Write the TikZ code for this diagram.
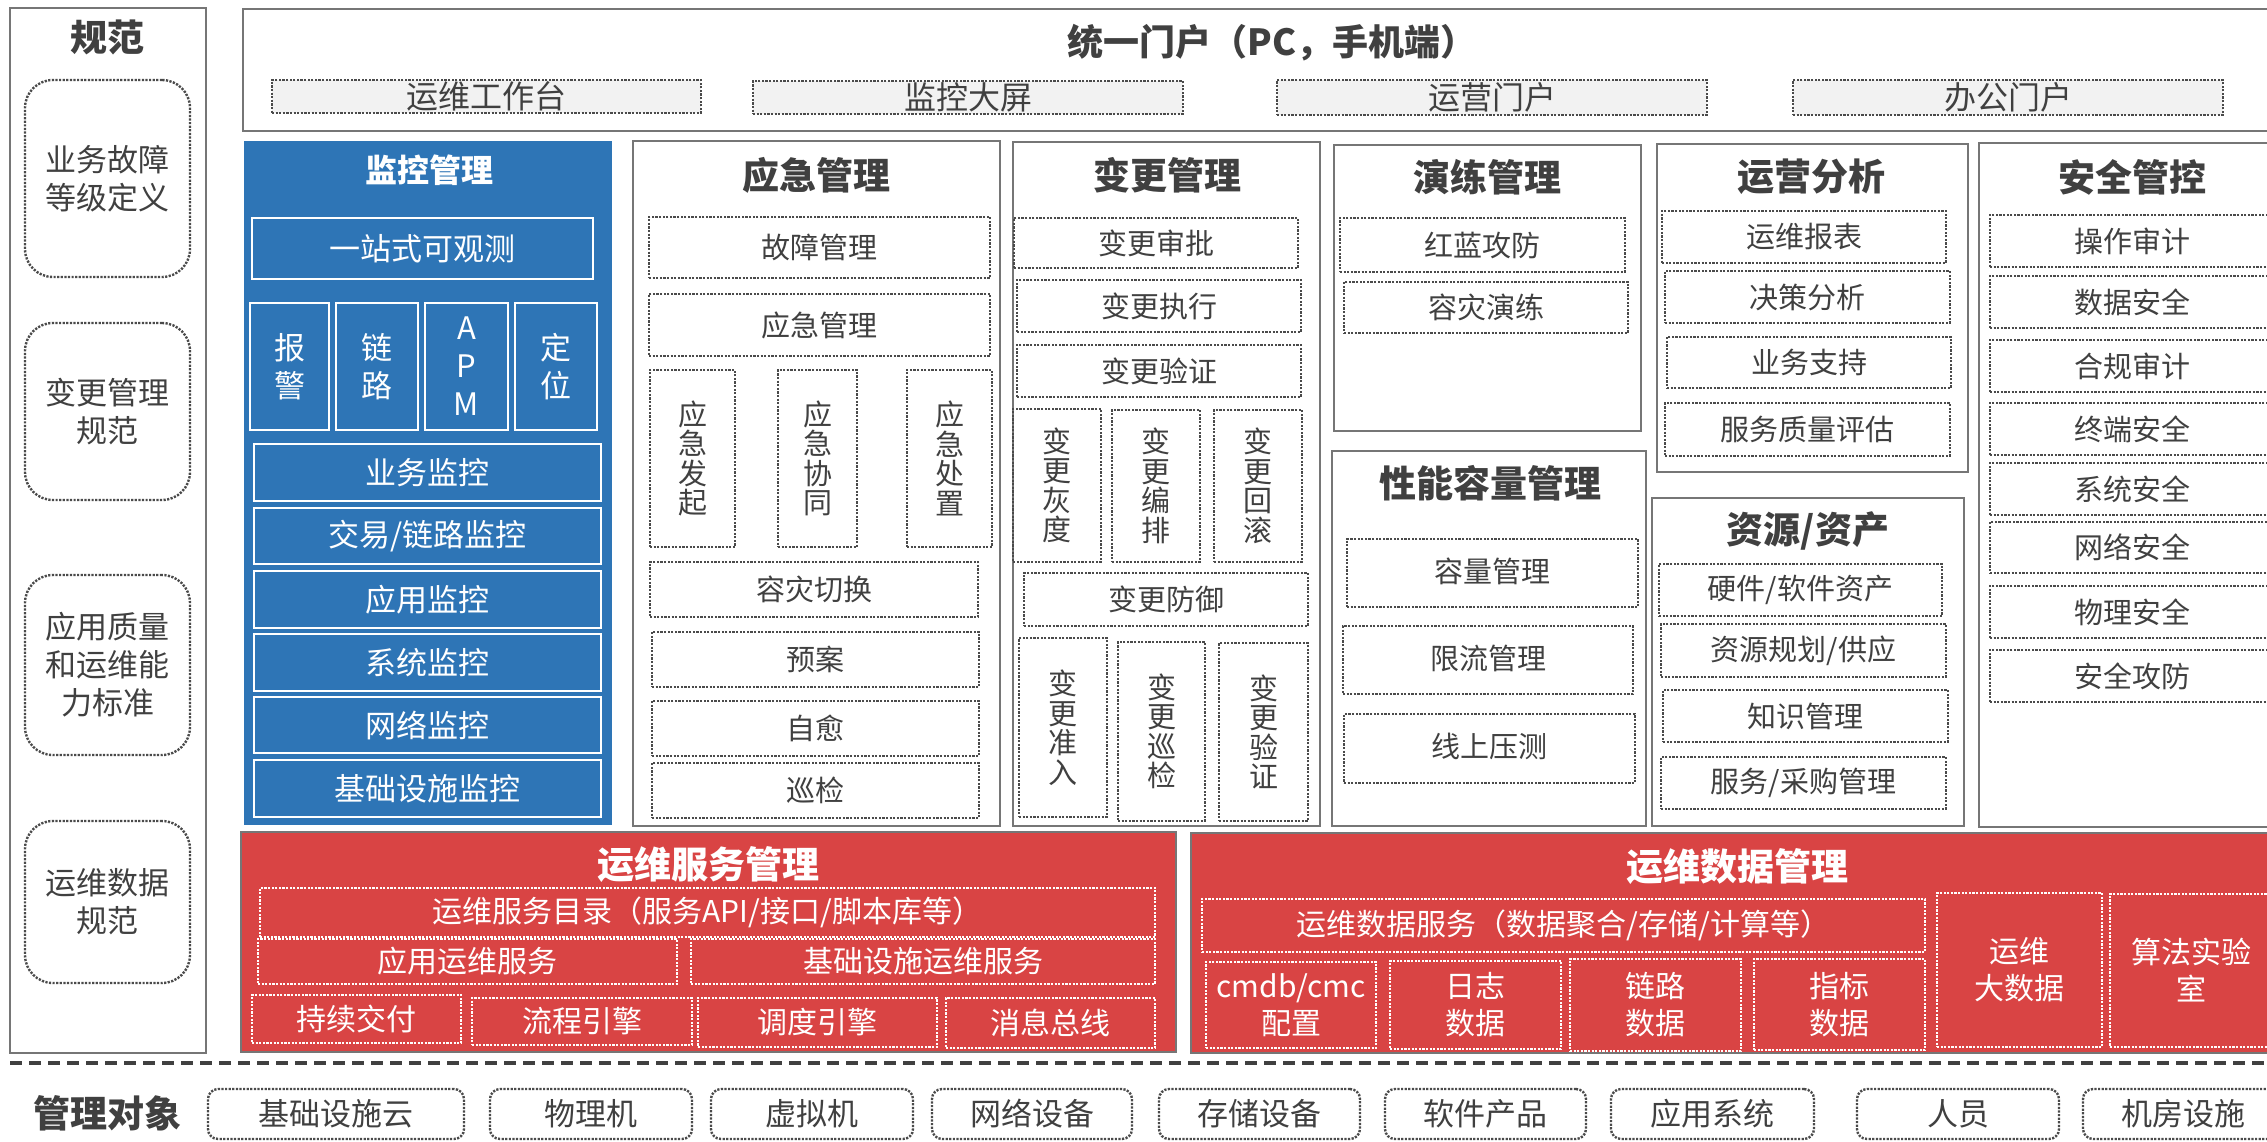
\documentclass[tikz,border=0pt]{standalone}
\usepackage{fontspec}
\setmainfont{Noto Sans CJK SC}
\definecolor{blueM}{HTML}{2E75B6}
\definecolor{redM}{HTML}{D94444}
\definecolor{gline}{HTML}{767676}
\definecolor{dotc}{HTML}{4A4A4A}
\definecolor{txt}{HTML}{404040}
\definecolor{pfill}{HTML}{F2F2F2}
\newcommand\R[7]{%
 \pgfmathsetmacro\rcx{(#3+#5)/2}\pgfmathsetmacro\rcy{(#4+#6)/2}%
 \pgfmathsetmacro\rww{#5-#3}\pgfmathsetmacro\rhh{#6-#4}%
 \node[#1,minimum width=\rww pt,minimum height=\rhh pt,inner sep=0pt] (#2) at (\rcx,\rcy) {#7};}
\tikzset{
 panel/.style={draw=gline,line width=2pt,fill=white},
 ttl/.style={font=\bfseries\fontsize{37}{40}\selectfont,text=txt,inner sep=0pt},
 wttl/.style={ttl,text=white},
 dbox/.style={draw=dotc,line width=2.4pt,dash pattern=on 2.2pt off 1.4pt,text=txt,font=\fontsize{29}{30}\selectfont,align=center},
 dboxv/.style={dbox,font=\fontsize{29}{29.5}\selectfont},
 lbox/.style={dbox,rounded corners=28pt,font=\fontsize{31}{38}\selectfont},
 pbox/.style={dbox,fill=pfill,font=\fontsize{32}{34}\selectfont},
 bluepanel/.style={fill=blueM},
 bbox/.style={draw=white,line width=2.5pt,text=white,font=\fontsize{31}{33}\selectfont,align=center},
 bboxv/.style={bbox,font=\fontsize{31}{38}\selectfont},
 redpanel/.style={draw=gline,line width=2pt,fill=redM},
 rbox/.style={draw=white,line width=2.4pt,dash pattern=on 2.2pt off 1.4pt,text=white,font=\fontsize{30}{37}\selectfont,align=center},
 obox/.style={dbox,rounded corners=10pt,font=\fontsize{31}{33}\selectfont},
}
\begin{document}
\begin{tikzpicture}[x=1pt,y=-1pt]
\useasboundingbox (0,0) rectangle (2267,1141);
\fill[white] (0,0) rectangle (2267,1141);
\clip (0,0) rectangle (2267,1141);
% left spec panel
\R{panel}{spec}{10}{8}{206}{1053}{}
\node[ttl] (specT) at (107,37) {规范};
\R{lbox}{s1}{25}{80}{190}{277}{业务故障\\等级定义}
\R{lbox}{s2}{25}{323}{190}{500}{变更管理\\规范}
\R{lbox}{s3}{25}{575}{190}{755}{应用质量\\和运维能\\力标准}
\R{lbox}{s4}{25}{821}{190}{983}{运维数据\\规范}
% portal
\R{panel}{portal}{243}{9}{2300}{131}{}
\node[ttl,font=\bfseries\fontsize{36}{40}\selectfont] (portalT) at (1272,43) {统一门户（PC，手机端）};
\R{pbox}{p1}{272}{80}{701}{113}{\raisebox{2pt}{运维工作台}}
\R{pbox}{p2}{753}{81}{1183}{114}{\raisebox{2pt}{监控大屏}}
\R{pbox}{p3}{1277}{80}{1707}{115}{\raisebox{2pt}{运营门户}}
\R{pbox}{p4}{1793}{80}{2223}{115}{\raisebox{2pt}{办公门户}}
% monitoring
\R{bluepanel}{mon}{244}{141}{612}{825}{}
\node[wttl,font=\bfseries\fontsize{32}{34}\selectfont] (monT) at (429,170) {监控管理};
\R{bbox}{m0}{252}{218}{593}{279}{一站式可观测}
\R{bboxv}{m1}{250}{303}{329}{430}{报\\警}
\R{bboxv}{m2}{336}{303}{418}{430}{链\\路}
\R{bboxv}{m3}{425}{303}{508}{430}{A\\P\\M}
\R{bboxv}{m4}{515}{303}{597}{430}{定\\位}
\R{bbox}{m5}{254}{444}{601}{501}{业务监控}
\R{bbox}{m6}{254}{508}{601}{564}{交易/链路监控}
\R{bbox}{m7}{254}{571}{601}{628}{应用监控}
\R{bbox}{m8}{254}{634}{601}{691}{系统监控}
\R{bbox}{m9}{254}{697}{601}{753}{网络监控}
\R{bbox}{m10}{254}{760}{601}{817}{基础设施监控}
% emergency
\R{panel}{emg}{633}{141}{1000}{826}{}
\node[ttl] (emgT) at (816,175) {应急管理};
\R{dbox}{e1}{649}{217}{990}{278}{故障管理}
\R{dbox}{e2}{649}{294}{990}{356}{应急管理}
\R{dboxv}{e3}{650}{370}{735}{547}{应\\急\\发\\起}
\R{dboxv}{e4}{778}{370}{857}{547}{应\\急\\协\\同}
\R{dboxv}{e5}{907}{370}{992}{547}{应\\急\\处\\置}
\R{dbox}{e6}{650}{562}{978}{617}{容灾切换}
\R{dbox}{e7}{652}{632}{979}{687}{预案}
\R{dbox}{e8}{652}{701}{979}{756}{自愈}
\R{dbox}{e9}{652}{763}{979}{818}{巡检}
% change
\R{panel}{chg}{1013}{142}{1320}{826}{}
\node[ttl] (chgT) at (1167,175) {变更管理};
\R{dbox}{c1}{1014}{218}{1298}{268}{变更审批}
\R{dbox}{c2}{1017}{280}{1301}{332}{变更执行}
\R{dbox}{c3}{1017}{345}{1301}{397}{变更验证}
\R{dboxv}{c4}{1013}{409}{1101}{562}{变\\更\\灰\\度}
\R{dboxv}{c5}{1112}{410}{1200}{562}{变\\更\\编\\排}
\R{dboxv}{c6}{1214}{410}{1302}{562}{变\\更\\回\\滚}
\R{dbox}{c7}{1024}{573}{1308}{626}{变更防御}
\R{dboxv}{c8}{1019}{638}{1107}{817}{变\\更\\准\\入}
\R{dboxv}{c9}{1118}{642}{1205}{821}{变\\更\\巡\\检}
\R{dboxv}{c10}{1219}{643}{1308}{821}{变\\更\\验\\证}
% drill
\R{panel}{drl}{1334}{145}{1641}{431}{}
\node[ttl] (drlT) at (1487,177) {演练管理};
\R{dbox}{d1}{1340}{218}{1625}{272}{红蓝攻防}
\R{dbox}{d2}{1344}{282}{1628}{333}{容灾演练}
% performance
\R{panel}{perf}{1332}{451}{1646}{826}{}
\node[ttl] (perfT) at (1490,483) {性能容量管理};
\R{dbox}{f1}{1347}{539}{1638}{607}{\raisebox{6pt}{容量管理}}
\R{dbox}{f2}{1343}{626}{1633}{694}{\raisebox{6pt}{限流管理}}
\R{dbox}{f3}{1344}{714}{1635}{783}{\raisebox{6pt}{线上压测}}
% operations analysis
\R{panel}{ops}{1657}{144}{1968}{472}{}
\node[ttl] (opsT) at (1811,177) {运营分析};
\R{dbox}{o1}{1662}{211}{1946}{263}{运维报表}
\R{dbox}{o2}{1665}{271}{1950}{323}{决策分析}
\R{dbox}{o3}{1667}{337}{1951}{388}{业务支持}
\R{dbox}{o4}{1665}{403}{1950}{456}{服务质量评估}
% resources
\R{panel}{res}{1652}{498}{1964}{826}{}
\node[ttl] (resT) at (1808,531) {资源/资产};
\R{dbox}{r1}{1659}{564}{1942}{616}{硬件/软件资产}
\R{dbox}{r2}{1661}{624}{1946}{677}{资源规划/供应}
\R{dbox}{r3}{1663}{690}{1948}{742}{知识管理}
\R{dbox}{r4}{1661}{757}{1946}{809}{服务/采购管理}
% security
\R{panel}{sec}{1979}{143}{2300}{827}{}
\node[ttl] (secT) at (2132,177) {安全管控};
\R{dbox}{a1}{1990}{215}{2274}{267}{操作审计}
\R{dbox}{a2}{1990}{276}{2274}{328}{数据安全}
\R{dbox}{a3}{1990}{340}{2274}{392}{合规审计}
\R{dbox}{a4}{1990}{403}{2274}{455}{终端安全}
\R{dbox}{a5}{1990}{463}{2274}{515}{系统安全}
\R{dbox}{a6}{1990}{522}{2274}{573}{网络安全}
\R{dbox}{a7}{1990}{586}{2274}{638}{物理安全}
\R{dbox}{a8}{1990}{650}{2274}{702}{安全攻防}
% ops service management
\R{redpanel}{svc}{241}{832}{1176}{1052}{}
\node[wttl] (svcT) at (708,865) {运维服务管理};
\R{rbox}{v1}{260}{888}{1155}{937}{运维服务目录（服务API/接口/脚本库等）}
\R{rbox}{v2}{258}{939}{677}{984}{应用运维服务}
\R{rbox}{v3}{691}{939}{1155}{984}{基础设施运维服务}
\R{rbox}{v4}{252}{995}{461}{1043}{持续交付}
\R{rbox}{v5}{472}{998}{692}{1045}{流程引擎}
\R{rbox}{v6}{698}{998}{937}{1047}{调度引擎}
\R{rbox}{v7}{946}{998}{1155}{1048}{消息总线}
% ops data management
\R{redpanel}{dat}{1191}{833}{2300}{1053}{}
\node[wttl] (datT) at (1737,867) {运维数据管理};
\R{rbox}{t1}{1202}{899}{1925}{952}{运维数据服务（数据聚合/存储/计算等）}
\R{rbox}{t2}{1206}{962}{1376}{1048}{cmdb/cmc\\配置}
\R{rbox}{t3}{1390}{961}{1561}{1049}{日志\\数据}
\R{rbox}{t4}{1570}{959}{1741}{1051}{链路\\数据}
\R{rbox}{t5}{1754}{959}{1925}{1050}{指标\\数据}
\R{rbox}{t6}{1937}{893}{2102}{1047}{运维\\大数据}
\R{rbox}{t7}{2110}{894}{2272}{1047}{算法实验\\室}
% separator
\coordinate (sepL) at (10,1063);
\coordinate (sepR) at (2267,1063);
\draw[draw=txt,line width=3.5pt,dash pattern=on 12pt off 7pt] (sepL) -- (sepR);
% managed objects
\node[ttl] (objT) at (107,1113) {管理对象};
\R{obox}{b1}{208}{1089}{464}{1139}{基础设施云}
\R{obox}{b2}{490}{1089}{692}{1139}{物理机}
\R{obox}{b3}{711}{1089}{913}{1139}{虚拟机}
\R{obox}{b4}{932}{1089}{1132}{1139}{网络设备}
\R{obox}{b5}{1159}{1089}{1360}{1139}{存储设备}
\R{obox}{b6}{1385}{1089}{1586}{1139}{软件产品}
\R{obox}{b7}{1611}{1089}{1814}{1139}{应用系统}
\R{obox}{b8}{1857}{1089}{2059}{1139}{人员}
\R{obox}{b9}{2083}{1089}{2283}{1139}{机房设施}
\end{tikzpicture}
\end{document}
